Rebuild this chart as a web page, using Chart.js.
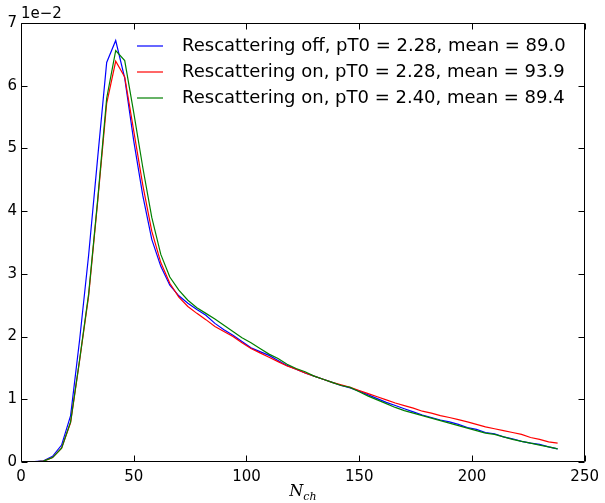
<!DOCTYPE html>
<html><head><meta charset="utf-8">
<script src="https://cdn.jsdelivr.net/npm/chart.js@4/dist/chart.umd.min.js"></script>
<style>html,body{margin:0;padding:0;background:#fff}canvas{display:block}</style>
</head><body>
<canvas id="c" width="605" height="503"></canvas>
<script>
// ---- data (y values in units of 1e-2) ----
const nch = [2,6,10,14,18,22,26,30,34,38,42,46,50,54,58,62,66,70,74,78,82,86,90,94,98,102,106,110,114,118,122,126,130,134,138,142,146,150,154,158,162,166,170,174,178,182,186,190,194,198,202,206,210,214,218,222,226,230,234,238];
const rescOff228 = [0.00,0.005,0.02,0.09,0.27,0.74,1.95,3.30,4.85,6.37,6.72,6.12,5.12,4.25,3.55,3.12,2.82,2.65,2.53,2.43,2.34,2.21,2.11,2.02,1.92,1.82,1.76,1.70,1.62,1.54,1.48,1.42,1.37,1.32,1.27,1.22,1.18,1.13,1.07,1.01,0.95,0.90,0.85,0.80,0.75,0.71,0.67,0.64,0.60,0.55,0.52,0.47,0.45,0.40,0.37,0.33,0.30,0.28,0.24,0.21];
const rescOn228 = [0.00,0.004,0.015,0.07,0.22,0.63,1.62,2.65,4.15,5.72,6.39,6.14,5.28,4.42,3.68,3.18,2.85,2.63,2.48,2.37,2.27,2.16,2.08,2.00,1.90,1.81,1.74,1.67,1.60,1.53,1.48,1.42,1.37,1.32,1.27,1.23,1.19,1.14,1.09,1.04,0.99,0.94,0.90,0.86,0.81,0.78,0.74,0.71,0.675,0.64,0.60,0.56,0.53,0.50,0.47,0.44,0.39,0.36,0.32,0.30];
const rescOn240 = [0.00,0.004,0.015,0.07,0.22,0.64,1.63,2.68,4.18,5.80,6.56,6.40,5.57,4.70,3.90,3.31,2.95,2.74,2.58,2.46,2.37,2.28,2.18,2.08,1.98,1.90,1.81,1.72,1.65,1.56,1.49,1.44,1.37,1.32,1.27,1.22,1.19,1.12,1.05,0.99,0.93,0.87,0.82,0.78,0.74,0.70,0.66,0.62,0.58,0.54,0.50,0.46,0.44,0.40,0.36,0.33,0.30,0.27,0.24,0.21];
const seriesLabels = ['Rescattering off, pT0 = 2.28, mean = 89.0','Rescattering on, pT0 = 2.28, mean = 93.9','Rescattering on, pT0 = 2.40, mean = 89.4'];
const seriesColors = ['#0000ff','#ff0000','#008000'];
const xTicks = [0,50,100,150,200,250];
const yTicks = [0,1,2,3,4,5,6,7];
const yOffsetText = '1e\u22122';
const xTitleMain = 'N', xTitleSub = 'ch';

const FONT = "'DejaVu Sans', sans-serif";
const series = [rescOff228, rescOn228, rescOn240];

const decor = {
  id: 'decor',
  afterDraw(chart) {
    const {ctx, chartArea: a, scales: {x, y}} = chart;
    ctx.save();
    ctx.strokeStyle = '#000';
    ctx.lineWidth = 1;
    const L = Math.round(a.left) + 0.5, R = Math.round(a.right) - 0.5;
    const T = Math.round(a.top) + 0.5, B = Math.round(a.bottom) - 0.5;
    ctx.beginPath();
    ctx.rect(L, T, R - L, B - T);
    ctx.stroke();
    const tl = 6;
    ctx.beginPath();
    xTicks.forEach(v => {
      const px = Math.round(x.getPixelForValue(v)) + 0.5;
      ctx.moveTo(px, B); ctx.lineTo(px, B - tl);
      ctx.moveTo(px, T); ctx.lineTo(px, T + tl);
    });
    yTicks.forEach(v => {
      const py = Math.round(y.getPixelForValue(v)) + 0.5;
      ctx.moveTo(L, py); ctx.lineTo(L + tl, py);
      ctx.moveTo(R, py); ctx.lineTo(R - tl, py);
    });
    ctx.stroke();
    // offset text
    ctx.fillStyle = '#000';
    ctx.font = '15px ' + FONT;
    ctx.textAlign = 'left';
    ctx.textBaseline = 'alphabetic';
    ctx.fillText(yOffsetText, a.left, a.top - 5);
    // x title
    const cx = (a.left + a.right) / 2;
    ctx.font = 'italic 16px "DejaVu Serif", serif';
    const wN = ctx.measureText(xTitleMain).width;
    ctx.font = 'italic 11px "DejaVu Serif", serif';
    const wS = ctx.measureText(xTitleSub).width;
    const x0 = cx - (wN + wS) / 2;
    ctx.font = 'italic 16px "DejaVu Serif", serif';
    ctx.fillText(xTitleMain, x0, 496);
    ctx.font = 'italic 11px "DejaVu Serif", serif';
    ctx.fillText(xTitleSub, x0 + wN, 500);
    // legend
    ctx.font = '18px ' + FONT;
    ctx.textBaseline = 'middle';
    chart.data.datasets.forEach((ds, i) => {
      const ly = 46 + 26 * i;
      ctx.strokeStyle = ds.borderColor;
      ctx.lineWidth = 1.2;
      ctx.beginPath();
      ctx.moveTo(137, ly); ctx.lineTo(163, ly);
      ctx.stroke();
      ctx.fillStyle = '#000';
      ctx.fillText(ds.label, 182, ly);
    });
    ctx.restore();
  }
};

new Chart(document.getElementById('c'), {
  type: 'line',
  data: {
    datasets: series.map((s, i) => ({
      label: seriesLabels[i],
      data: nch.map((v, j) => ({x: v, y: s[j]})),
      borderColor: seriesColors[i],
      borderWidth: 1.2,
      pointRadius: 0,
      fill: false,
      tension: 0,
      order: 2 - i
    }))
  },
  options: {
    responsive: false,
    animation: false,
    devicePixelRatio: 1,
    layout: {padding: {top: 23, right: 17, left: 0, bottom: 0}},
    plugins: {legend: {display: false}, tooltip: {enabled: false}},
    scales: {
      x: {
        type: 'linear', min: 0, max: 250,
        afterBuildTicks: s => { s.ticks = xTicks.map(v => ({value: v})); },
        afterFit: s => { s.height = 41; },
        grid: {display: false, drawTicks: false},
        border: {display: false},
        ticks: {color: '#000', font: {family: FONT, size: 15}, padding: 6, maxRotation: 0, autoSkip: false}
      },
      y: {
        type: 'linear', min: 0, max: 7,
        afterBuildTicks: s => { s.ticks = yTicks.map(v => ({value: v})); },
        afterFit: s => { s.width = 21; },
        grid: {display: false, drawTicks: false},
        border: {display: false},
        ticks: {color: '#000', font: {family: FONT, size: 15}, padding: 4}
      }
    }
  },
  plugins: [decor]
});
</script>
</body></html>
